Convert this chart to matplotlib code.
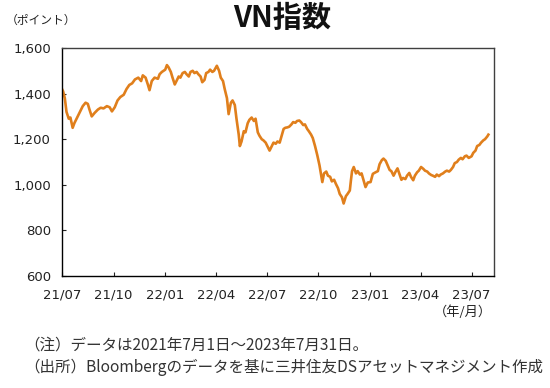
import matplotlib
matplotlib.use("Agg")
import matplotlib.pyplot as plt
import pandas as pd

plt.rcParams['font.family'] = ['DejaVu Sans', 'Noto Sans CJK JP']

dates = [
    "2021-07-01", "2021-07-03", "2021-07-06", "2021-07-09", "2021-07-13", "2021-07-16", "2021-07-20",
    "2021-07-23", "2021-07-27", "2021-08-02", "2021-08-07", "2021-08-12", "2021-08-16", "2021-08-19",
    "2021-08-23", "2021-08-28", "2021-09-03", "2021-09-08", "2021-09-13", "2021-09-19", "2021-09-24",
    "2021-09-28", "2021-10-03", "2021-10-08", "2021-10-13", "2021-10-19", "2021-10-24", "2021-10-29",
    "2021-11-03", "2021-11-08", "2021-11-14", "2021-11-19", "2021-11-22", "2021-11-27", "2021-12-01",
    "2021-12-04", "2021-12-08", "2021-12-13", "2021-12-19", "2021-12-22", "2021-12-26", "2022-01-01",
    "2022-01-04", "2022-01-07", "2022-01-11", "2022-01-14", "2022-01-18", "2022-01-21", "2022-01-25",
    "2022-01-28", "2022-02-01", "2022-02-05", "2022-02-08", "2022-02-12", "2022-02-15", "2022-02-19",
    "2022-02-22", "2022-02-26", "2022-03-01", "2022-03-05", "2022-03-08", "2022-03-12", "2022-03-15",
    "2022-03-19", "2022-03-22", "2022-03-26", "2022-03-29", "2022-04-03", "2022-04-07", "2022-04-10",
    "2022-04-14", "2022-04-17", "2022-04-21", "2022-04-24", "2022-04-28", "2022-05-01", "2022-05-05",
    "2022-05-08", "2022-05-12", "2022-05-14", "2022-05-17", "2022-05-21", "2022-05-24", "2022-05-28",
    "2022-05-31", "2022-06-04", "2022-06-08", "2022-06-11", "2022-06-15", "2022-06-18", "2022-06-22",
    "2022-06-25", "2022-06-29", "2022-07-03", "2022-07-06", "2022-07-10", "2022-07-13", "2022-07-17",
    "2022-07-20", "2022-07-24", "2022-07-27", "2022-07-31", "2022-08-03", "2022-08-07", "2022-08-10",
    "2022-08-14", "2022-08-17", "2022-08-21", "2022-08-24", "2022-08-28", "2022-08-31", "2022-09-04",
    "2022-09-07", "2022-09-11", "2022-09-14", "2022-09-18", "2022-09-21", "2022-09-25", "2022-09-29",
    "2022-10-03", "2022-10-06", "2022-10-08", "2022-10-11", "2022-10-15", "2022-10-18", "2022-10-22",
    "2022-10-25", "2022-10-29", "2022-11-01", "2022-11-05", "2022-11-08", "2022-11-12", "2022-11-15",
    "2022-11-19", "2022-11-22", "2022-11-26", "2022-11-28", "2022-11-30", "2022-12-03", "2022-12-07",
    "2022-12-10", "2022-12-14", "2022-12-17", "2022-12-21", "2022-12-24", "2022-12-28", "2023-01-02",
    "2023-01-06", "2023-01-11", "2023-01-15", "2023-01-18", "2023-01-22", "2023-01-25", "2023-01-29",
    "2023-02-01", "2023-02-05", "2023-02-08", "2023-02-12", "2023-02-15", "2023-02-19", "2023-02-22",
    "2023-02-26", "2023-03-01", "2023-03-05", "2023-03-08", "2023-03-12", "2023-03-15", "2023-03-19",
    "2023-03-22", "2023-03-26", "2023-03-29", "2023-04-02", "2023-04-06", "2023-04-09", "2023-04-13",
    "2023-04-16", "2023-04-20", "2023-04-23", "2023-04-27", "2023-04-30", "2023-05-04", "2023-05-07",
    "2023-05-11", "2023-05-15", "2023-05-18", "2023-05-22", "2023-05-25", "2023-05-29", "2023-06-01",
    "2023-06-05", "2023-06-08", "2023-06-12", "2023-06-15", "2023-06-19", "2023-06-22", "2023-06-26",
    "2023-07-01", "2023-07-04", "2023-07-08", "2023-07-11", "2023-07-15", "2023-07-18", "2023-07-22",
    "2023-07-25", "2023-07-29", "2023-07-31",
]

values = [
    1420, 1410, 1380, 1320, 1290, 1295, 1250,
    1270, 1290, 1320, 1345, 1360, 1355, 1330,
    1300, 1315, 1330, 1338, 1335, 1345, 1340,
    1322, 1340, 1370, 1385, 1395, 1420, 1438,
    1445, 1462, 1470, 1455, 1480, 1470, 1440,
    1415, 1455, 1470, 1465, 1485, 1495, 1505,
    1525, 1515, 1495, 1470, 1440, 1455, 1475,
    1470, 1490, 1495, 1485, 1475, 1495, 1500,
    1490, 1495, 1485, 1475, 1450, 1460, 1490,
    1495, 1505, 1495, 1500, 1522, 1500, 1470,
    1455, 1420, 1380, 1310, 1360, 1370, 1350,
    1290, 1220, 1170, 1190, 1235, 1230, 1270,
    1285, 1295, 1280, 1290, 1230, 1215, 1200,
    1195, 1185, 1165, 1150, 1170, 1185, 1180,
    1190, 1185, 1210, 1245, 1250, 1252, 1255,
    1265, 1275, 1272, 1280, 1282, 1275, 1262,
    1265, 1245, 1235, 1220, 1205, 1170, 1130,
    1085, 1040, 1012, 1050, 1058, 1040, 1035,
    1015, 1022, 1005, 985, 960, 945, 918,
    950, 960, 975, 1020, 1060, 1078, 1050,
    1060, 1045, 1050, 1015, 990, 1010, 1012,
    1048, 1055, 1060, 1090, 1108, 1115, 1105,
    1088, 1065, 1060, 1040, 1055, 1072, 1050,
    1022, 1030, 1025, 1040, 1052, 1035, 1020,
    1040, 1055, 1062, 1078, 1070, 1062, 1058,
    1050, 1043, 1040, 1035, 1045, 1038, 1045,
    1050, 1058, 1062, 1058, 1065, 1078, 1095,
    1100, 1110, 1118, 1112, 1125, 1128, 1118,
    1125, 1140, 1150, 1170, 1175, 1185, 1195,
    1200, 1212, 1220,
]

x_ticks = ["2021-07-01", "2021-10-01", "2022-01-01", "2022-04-01", "2022-07-01",
           "2022-10-01", "2023-01-01", "2023-04-01", "2023-07-01"]
x_labels = ["21/07", "21/10", "22/01", "22/04", "22/07", "22/10", "23/01", "23/04", "23/07"]
y_ticks = [600, 800, 1000, 1200, 1400, 1600]
y_labels = ["600", "800", "1,000", "1,200", "1,400", "1,600"]

title = "VN指数"
y_unit = "（ポイント）"
x_unit = "（年/月）"
note1 = "（注）データは2021年7月1日～2023年7月31日。"
note2 = "（出所）Bloombergのデータを基に三井住友DSアセットマネジメント作成"

fig = plt.figure(figsize=(5.5, 3.88), dpi=100)
ax = fig.add_axes([62 / 550, 1 - 276 / 388, (494 - 62) / 550, (276 - 48) / 388])

d = pd.to_datetime(dates)
ax.plot(d, values, color="#E07F1C", linewidth=1.9, solid_joinstyle="round")

ax.set_ylim(600, 1600)
ax.set_xlim(pd.Timestamp("2021-07-01"), pd.Timestamp("2023-08-10"))
ax.set_yticks(y_ticks)
ax.set_yticklabels(y_labels)
ax.set_xticks(pd.to_datetime(x_ticks))
ax.set_xticklabels(x_labels)
ax.tick_params(axis="both", direction="in", length=3, width=0.8, labelsize=9.5,
               colors="#222222")
ax.tick_params(axis="y", pad=8)
ax.tick_params(axis="x", pad=9)
for s in ax.spines.values():
    s.set_linewidth(1.0)
    s.set_color("#404040")
ax.spines["left"].set_color("#000000")
ax.spines["bottom"].set_color("#000000")

jp = ['Noto Sans CJK JP', 'DejaVu Sans']
fig.text(282 / 550, 1 - 18 / 388, title, ha="center", va="center", fontsize=21,
         fontweight="bold", family=jp, color="#111111")
fig.text(6 / 550, 1 - 20 / 388, y_unit, ha="left", va="center", fontsize=8.5,
         family=jp, color="#222222")
fig.text(492 / 550, 1 - 312 / 388, x_unit, ha="right", va="center", fontsize=9.5,
         family=jp, color="#222222")
fig.text(24 / 550, 1 - 345 / 388, note1, ha="left", va="center", fontsize=11.2,
         family=jp, color="#333333")
fig.text(24 / 550, 1 - 367 / 388, note2, ha="left", va="center", fontsize=11.2,
         family=jp, color="#333333")

fig.savefig("out.png", dpi=100)
